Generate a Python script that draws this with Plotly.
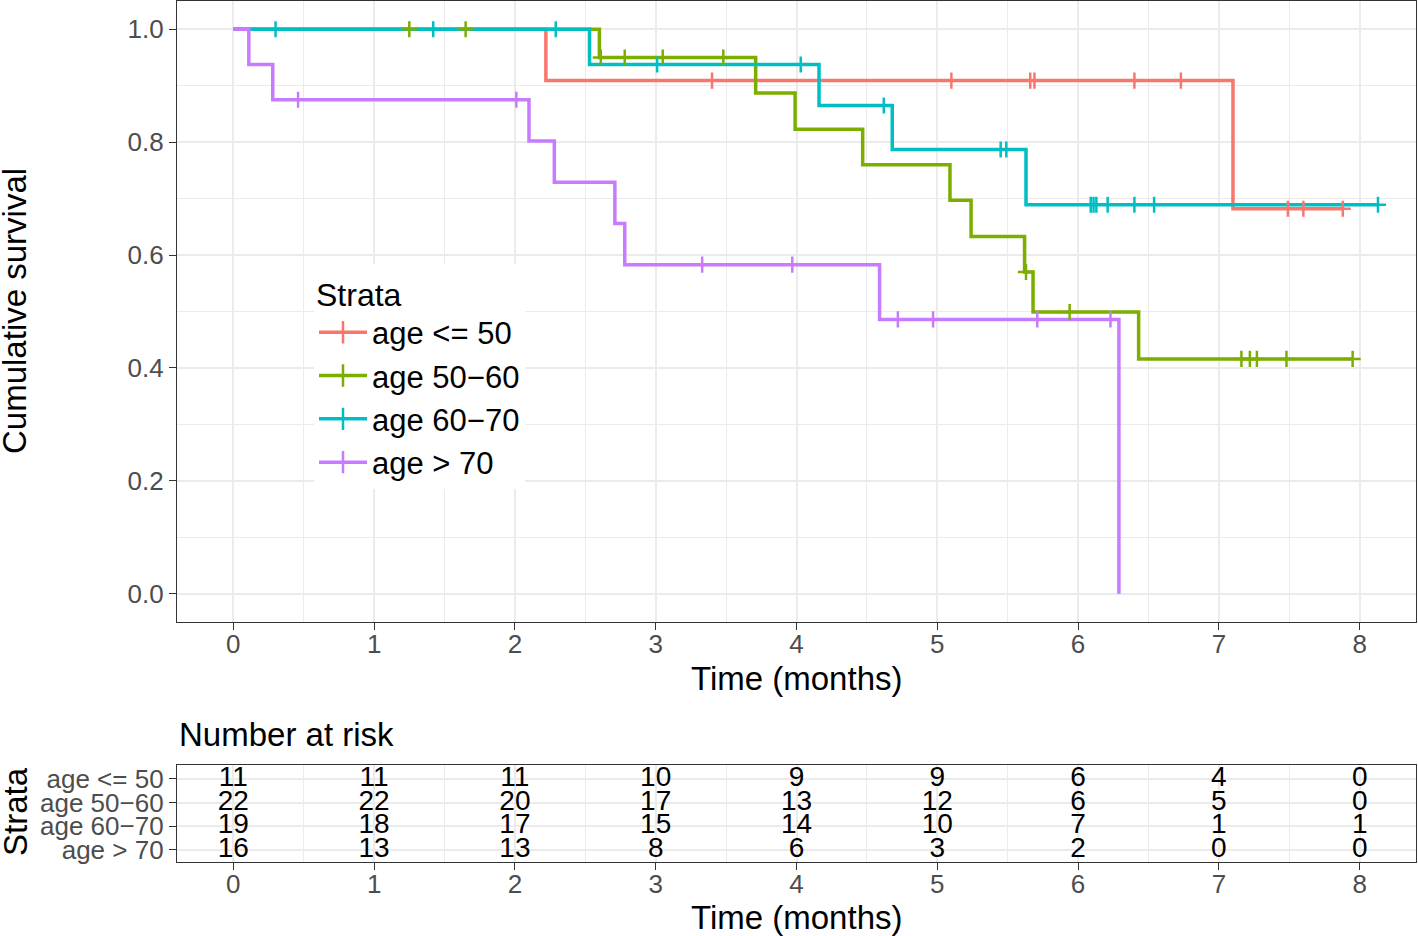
import numpy as np
import plotly.graph_objs as go

W, H = 1418, 936

strata = ['age <= 50', 'age 50\u221260', 'age 60\u221270', 'age > 70']
colors = ['#F8766D', '#7CAE00', '#00BFC4', '#C77CFF']

# step curves: times where survival changes, and levels
le50_time = [0, 2.22, 7.10, 7.88]
le50_surv = [1.0, 0.909, 0.682, 0.682]
le50_censor = [3.40, 5.10, 5.66, 5.69, 6.40, 6.73, 7.49, 7.60, 7.88]

a5060_time = [0, 2.60, 3.71, 3.99, 4.47, 5.09, 5.24, 5.62, 5.68, 6.43, 7.95]
a5060_surv = [1.0, 0.950, 0.887, 0.823, 0.760, 0.697, 0.633, 0.570, 0.499, 0.416, 0.416]
a5060_censor = [1.25, 1.65, 2.61, 2.78, 3.05, 3.48, 5.63, 5.94, 7.16, 7.22, 7.27, 7.48, 7.95]

a6070_time = [0, 2.53, 4.16, 4.68, 5.63, 8.13]
a6070_surv = [1.0, 0.9375, 0.865, 0.787, 0.689, 0.689]
a6070_censor = [0.30, 1.42, 2.29, 3.01, 4.03, 4.62, 5.45, 5.49, 6.09, 6.11, 6.13,
                6.21, 6.40, 6.54, 8.13]

gt70_time = [0, 0.11, 0.28, 2.10, 2.28, 2.71, 2.78, 4.59, 6.29]
gt70_surv = [1.0, 0.9375, 0.875, 0.802, 0.729, 0.656, 0.583, 0.486, 0.0]
gt70_censor = [0.46, 2.01, 3.33, 3.97, 4.72, 4.97, 5.71, 6.23]

# number at risk table
risk_times = [0, 1, 2, 3, 4, 5, 6, 7, 8]
risk_le50 = [11, 11, 11, 10, 9, 9, 6, 4, 0]
risk_5060 = [22, 22, 20, 17, 13, 12, 6, 5, 0]
risk_6070 = [19, 18, 17, 15, 14, 10, 7, 1, 1]
risk_gt70 = [16, 13, 13, 8, 6, 3, 2, 0, 0]

curves = [
    (le50_time, le50_surv, le50_censor, risk_le50),
    (a5060_time, a5060_surv, a5060_censor, risk_5060),
    (a6070_time, a6070_surv, a6070_censor, risk_6070),
    (gt70_time, gt70_surv, gt70_censor, risk_gt70),
]

FONT = 'Helvetica, Liberation Sans, Arial, sans-serif'
GRID = '#EBEBEB'
BORDER = '#333333'
TICKTXT = '#4D4D4D'

fig = go.Figure()

# survival step lines
for (t, s, c, r), name, col in zip(curves, strata, colors):
    fig.add_trace(go.Scatter(x=t, y=s, mode='lines', line=dict(color=col, width=3.5, shape='hv'),
                             showlegend=False, hoverinfo='skip', xaxis='x', yaxis='y'))

# censor marks
for (t, s, c, r), name, col in zip(curves, strata, colors):
    idx = np.searchsorted(np.array(t), np.array(c), side='right') - 1
    cy = np.array(s)[idx]
    fig.add_trace(go.Scatter(x=c, y=cy, mode='markers',
                             marker=dict(symbol='cross-thin', size=11.5, color=col,
                                         line=dict(color=col, width=2.5)),
                             showlegend=False, xaxis='x', yaxis='y'))

# legend entries
for name, col in zip(strata, colors):
    fig.add_trace(go.Scatter(x=[None], y=[None], mode='lines+markers', name=name,
                             line=dict(color=col, width=3.5),
                             marker=dict(symbol='cross-thin', size=16, color=col,
                                         line=dict(color=col, width=2.5)),
                             xaxis='x', yaxis='y'))

# risk table numbers
rows = [4, 3, 2, 1]
for (t, s, c, r), row in zip(curves, rows):
    fig.add_trace(go.Scatter(x=risk_times, y=[row] * len(risk_times), mode='text',
                             text=[str(v) for v in r],
                             textfont=dict(size=28, color='black', family=FONT),
                             showlegend=False, hoverinfo='skip', xaxis='x2', yaxis='y2'))

xdom = [177 / W, 1416 / W]
axis_common = dict(showline=True, mirror=True, linecolor=BORDER, linewidth=1.3,
                   ticks='outside', ticklen=7, tickwidth=1.3, tickcolor=BORDER,
                   tickfont=dict(size=26, color=TICKTXT, family=FONT),
                   gridcolor=GRID, gridwidth=2, zeroline=False, automargin=False)

fig.update_layout(
    width=W, height=H,
    margin=dict(l=0, r=0, t=0, b=0),
    paper_bgcolor='white', plot_bgcolor='white',
    font=dict(family=FONT, color='black'),
    xaxis=dict(domain=xdom, anchor='y', range=[-0.4, 8.4], tickvals=risk_times,
               ticklabelstandoff=-8,
               minor=dict(dtick=0.5, tick0=0.5, showgrid=True, gridcolor=GRID, gridwidth=1, ticks=''),
               **axis_common),
    yaxis=dict(domain=[1 - 622 / H, 1 - 1 / H], anchor='x', range=[-0.05, 1.05],
               tickvals=[0, 0.2, 0.4, 0.6, 0.8, 1.0], tickformat='.1f',
               minor=dict(dtick=0.1, tick0=0.1, showgrid=True, gridcolor=GRID, gridwidth=1, ticks=''),
               **axis_common),
    xaxis2=dict(domain=xdom, anchor='y2', range=[-0.4, 8.4], tickvals=risk_times,
                ticklabelstandoff=-8,
                minor=dict(dtick=0.5, tick0=0.5, showgrid=True, gridcolor=GRID, gridwidth=1, ticks=''),
                **axis_common),
    yaxis2=dict(domain=[1 - 862 / H, 1 - 765 / H], anchor='x2', range=[0.49, 4.59],
                tickvals=rows, ticktext=strata, **axis_common),
    legend=dict(x=314 / W, y=1 - 264 / H, xanchor='left', yanchor='top', bgcolor='white',
                font=dict(size=31, family=FONT, color='black'),
                title=dict(text='Strata', font=dict(size=32, family=FONT, color='black'), side='top'),
                itemwidth=48),
)

def title(text, px, py, angle=0, anchor='center'):
    fig.add_annotation(text=text, x=px / W, y=1 - py / H, xref='paper', yref='paper',
                       showarrow=False, textangle=angle, xanchor=anchor, yanchor='middle',
                       font=dict(size=33, family=FONT, color='black'))

title('Cumulative survival', 15, 311, angle=-90)
title('Time (months)', 796, 678)
title('Number at risk', 177, 734, anchor='left')
title('Strata', 15, 812, angle=-90)
title('Time (months)', 796, 917)

# drop the browser's default body margin so the figure sits at the page corner
fig.write_html("out.html", config={'displayModeBar': False},
               post_script="document.body.style.margin='0';")
